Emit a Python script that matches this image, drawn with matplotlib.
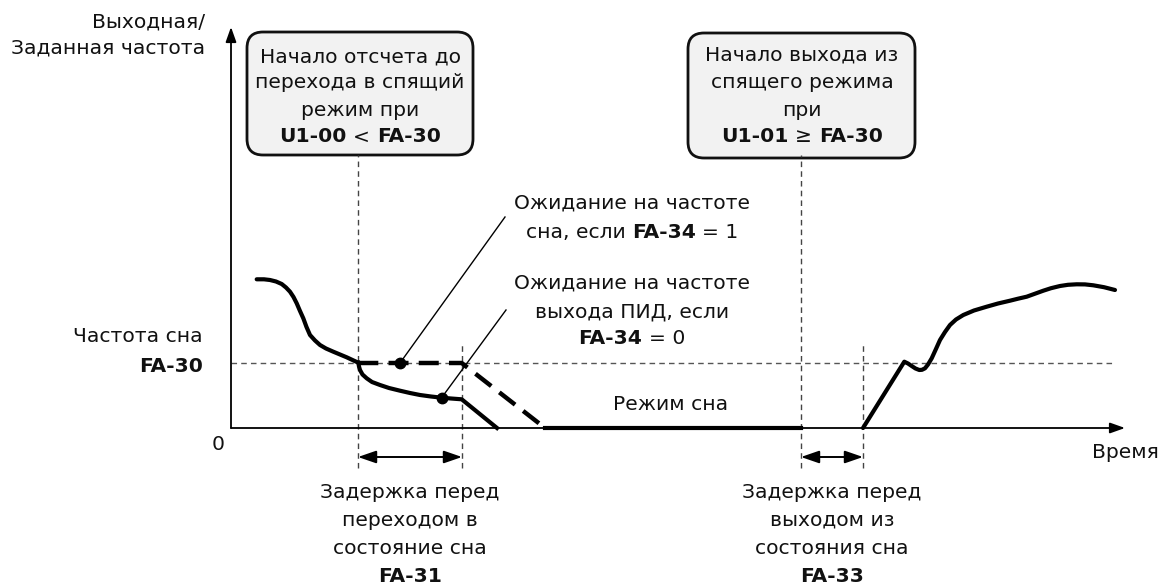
import numpy as np
import matplotlib
matplotlib.use("Agg")
import matplotlib.pyplot as plt
from matplotlib.patches import FancyBboxPatch
from matplotlib.transforms import ScaledTranslation

plt.rcParams['font.family'] = ['DejaVu Sans']

# ---- data (time units / frequency units, origin at axes origin) ----
sleep_freq = 65
approach_t = [25.7, 33, 39, 45, 50.7, 55, 59, 62.5, 65.7, 69, 72.3, 75.5, 79, 84, 89, 95, 102.3, 109, 115.7, 121.5, 127.3]
approach_f = [148.7, 148.7, 148, 146.5, 144, 140.5, 136.3, 131, 124.7, 117, 109.7, 101, 93, 87.5, 83, 79.5, 76.3, 73.5, 70.7, 68, 65.3]
pid_t = [127.3, 128, 129, 131.5, 135.7, 141, 149, 158, 169, 179, 189, 200, 210.7, 220, 230.7, 266]
pid_f = [65.3, 61.5, 58, 53.5, 49.7, 46, 43, 40, 37.3, 35, 33, 31.5, 30.3, 29.5, 28.7, 0]
hold_t = [127.3, 230.7, 314]
hold_f = [sleep_freq, sleep_freq, 0]
sleep_t = [314, 570]
sleep_f = [0, 0]
wake_t = [632, 673.3, 677, 680.7, 684.5, 688.3, 691, 694, 697, 700.7, 704.5, 709, 714, 719, 725, 732.3, 743, 755.7, 767, 779, 787, 795.7, 804, 812.3, 820, 829, 837, 845.7, 854, 862.3, 873, 884]
wake_f = [0, 66.3, 64.5, 62, 59.5, 58, 58.2, 59.7, 63.5, 69.7, 78, 88, 96, 103, 108.5, 113, 117.5, 121.3, 124.5, 127.3, 129.3, 131.3, 134.3, 137.3, 139.8, 142, 143.2, 143.7, 143.6, 142.7, 140.8, 138]
dots_t = [169, 210.7]
dots_f = [sleep_freq, 30.4]
leader_end_t = [274, 275]
leader_end_f = [211, 118]
markers_t = [127, 231, 570, 632]          # vertical event lines
markers_top = [273, 86, 273, 86]
delay_spans = [(127, 231), (570, 632)]

W, H = 1167, 587
fig = plt.figure(figsize=(W / 100, H / 100), dpi=100)
ax = fig.add_axes([0, 0, 1, 1])
x0, y0 = 231, 428
ax.set_xlim(-x0, W - x0)
ax.set_ylim(-(H - y0), y0)
ax.axis('off')

tc = '#111111'

# axes arrows
ax.annotate('', xy=(0, 401), xytext=(0, 0),
            arrowprops=dict(arrowstyle='-|>,head_length=0.9,head_width=0.32', lw=1.3, color='black',
                            shrinkA=0, shrinkB=0))
ax.annotate('', xy=(894, 0), xytext=(0, 0),
            arrowprops=dict(arrowstyle='-|>,head_length=0.9,head_width=0.32', lw=1.3, color='black',
                            shrinkA=0, shrinkB=0))

# sleep freq dashed line
ax.plot([0, 882], [sleep_freq, sleep_freq], color='#555555', lw=1.0, ls=(0, (4, 3)))
# vertical event lines
for t, top in zip(markers_t, markers_top):
    ax.plot([t, t], [-40, top], color='#444444', lw=1.0, ls=(0, (4, 3)))

# curves
ax.plot(approach_t, approach_f, color='black', lw=3, solid_capstyle='round', solid_joinstyle='round')
ax.plot(pid_t, pid_f, color='black', lw=3, solid_joinstyle='round')
ax.plot(hold_t, hold_f, color='black', lw=3.2, ls=(0, (4.5, 2.3)))
ax.plot(sleep_t, sleep_f, color='black', lw=3)
ax.plot(wake_t, wake_f, color='black', lw=3, solid_capstyle='round', solid_joinstyle='round')

# leaders and dots
for (t, f), (te, fe) in zip(zip(dots_t, dots_f), zip(leader_end_t, leader_end_f)):
    ax.plot([t, te], [f, fe], color='black', lw=1.0)
ax.plot(dots_t, dots_f, 'o', color='black', ms=7.5)

# delay arrows
for a, b in delay_spans:
    ax.annotate('', xy=(a, -29), xytext=(b, -29),
                arrowprops=dict(arrowstyle='<|-|>,head_length=1.1,head_width=0.38', lw=1.4, color='black',
                                shrinkA=0, shrinkB=0))

# boxes
for (bx, by, bw, bh) in [(16, 273, 226, 123), (457, 270, 227, 125)]:
    ax.add_patch(FancyBboxPatch((bx + 12, by + 12), bw - 24, bh - 24,
                                boxstyle='round,pad=12,rounding_size=16',
                                fc='#f2f2f2', ec='#111111', lw=2.0, mutation_aspect=1))

fig.canvas.draw()
renderer = fig.canvas.get_renderer()


def measure(s, weight, fs):
    t = ax.text(0, 0, s, fontsize=fs, fontweight=weight)
    w = t.get_window_extent(renderer).width
    t.remove()
    return w


# fit font size so that the y-axis label has the reference width (~192 px)
FS = 12 * 192 / measure('Заданная частота', 'normal', 12)
space_w = measure('a a', 'normal', FS) - measure('aa', 'normal', FS)


def rich(x, y, parts):
    widths = [measure(s, w, FS) for s, w in parts]
    total = sum(widths) + space_w * (len(parts) - 1)
    off = -total / 2
    for (s, w), wd in zip(parts, widths):
        tr = ax.transData + ScaledTranslation(off / 100, 0, fig.dpi_scale_trans)
        ax.text(x, y, s, fontsize=FS, fontweight=w, ha='left', va='center', color=tc, transform=tr)
        off += wd + space_w


def txt(x, y, s, ha='center', weight='normal'):
    ax.text(x, y, s, fontsize=FS, ha=ha, va='center', color=tc, fontweight=weight)


# y-axis label
txt(-26, 406, 'Выходная/', ha='right')
txt(-26, 380, 'Заданная частота', ha='right')
# sleep freq label
txt(-28, 91, 'Частота сна', ha='right')
txt(-28, 61, 'FA-30', ha='right', weight='bold')
txt(-13, -17, '0')
txt(894, -24, 'Время')

# box 1
txt(129, 371, 'Начало отсчета до')
txt(129, 345, 'перехода в спящий')
txt(129, 318, 'режим при')
rich(129, 291, [('U1-00', 'bold'), ('<', 'normal'), ('FA-30', 'bold')])
# box 2
txt(571, 373, 'Начало выхода из')
txt(571, 345, 'спящего режима')
txt(571, 318, 'при')
rich(571, 291, [('U1-01', 'bold'), ('≥', 'normal'), ('FA-30', 'bold')])

# annotations
txt(401, 225, 'Ожидание на частоте')
rich(401, 195, [('сна, если', 'normal'), ('FA-34', 'bold'), ('= 1', 'normal')])
txt(401, 145, 'Ожидание на частоте')
txt(401, 116, 'выхода ПИД, если')
rich(401, 90, [('FA-34', 'bold'), ('= 0', 'normal')])
txt(440, 23, 'Режим сна')

# bottom labels
for cx, lines in [(179, ['Задержка перед', 'переходом в', 'состояние сна', 'FA-31']),
                  (601, ['Задержка перед', 'выходом из', 'состояния сна', 'FA-33'])]:
    for i, s in enumerate(lines):
        txt(cx, -64 - 28 * i, s, weight='bold' if i == 3 else 'normal')

fig.savefig('out.png', dpi=100)
